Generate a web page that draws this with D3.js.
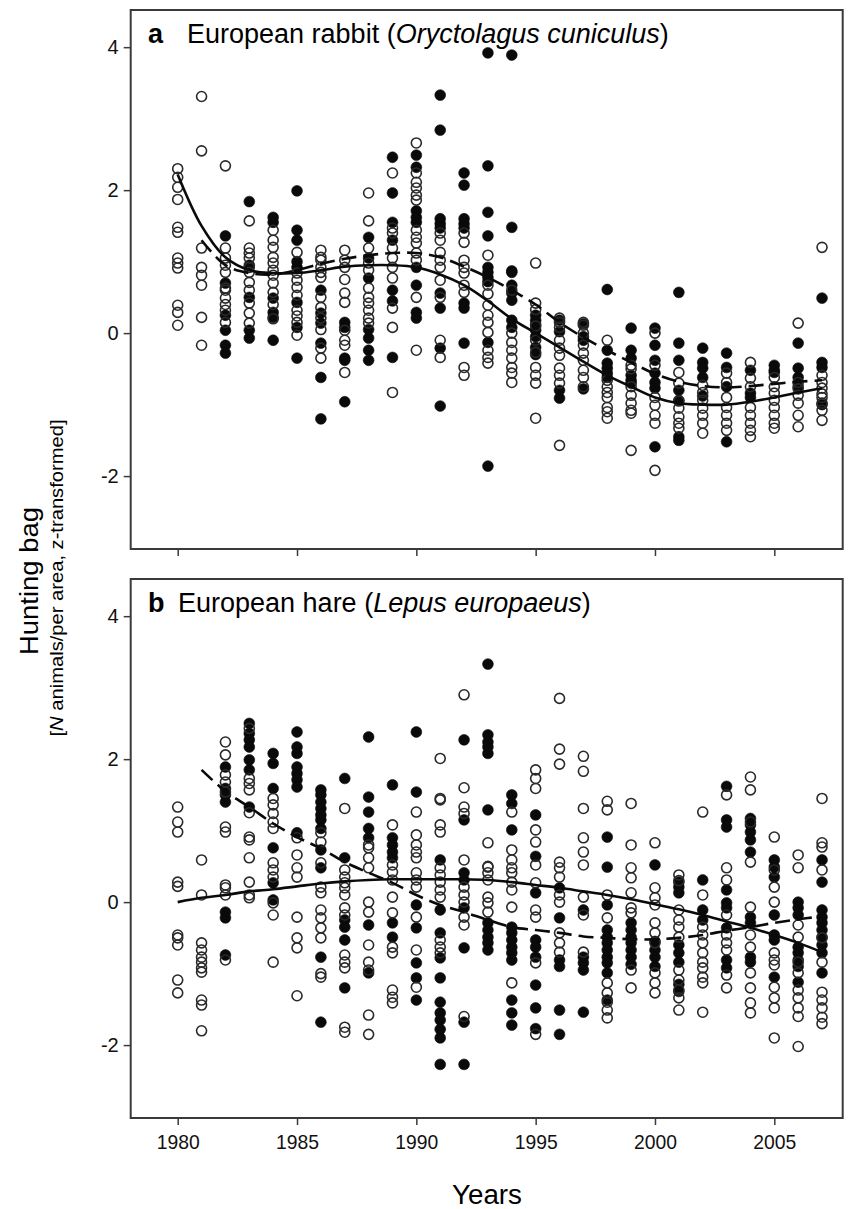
<!DOCTYPE html>
<html lang="en">
<head>
<meta charset="utf-8" />
<title>Hunting bag</title>
<script src="https://cdn.jsdelivr.net/npm/d3@7"></script>
<style>
  body { margin: 0; background: #fff; }
  svg { font-family: "Liberation Sans", Arial, sans-serif; }
  .frame { fill: none; stroke: #3a3a3a; stroke-width: 2; }
  .axis path { display: none; }
  .axis line { stroke: #3a3a3a; stroke-width: 1.5; }
  .axis text { font-size: 21px; fill: #111; }
  .open { fill: none; stroke: #2a2a2a; stroke-width: 1.6; }
  .filled { fill: #0a0a0a; stroke: #0a0a0a; stroke-width: 0.6; }
  .fit { fill: none; stroke: #0a0a0a; stroke-width: 2.6; }
</style>
</head>
<body>
<div id="chart"></div>
<script>
// years on the x axis
var years = d3.range(1980, 2008);
var xTicks = [1980, 1985, 1990, 1995, 2000, 2005];
var yTicks = [-2, 0, 2, 4];

// panel a, European rabbit: values per year (open / filled circles)
var rabbitOpen = [
  [2.3, 2.18, 2.04, 1.87, 1.48, 1.41, 1.05, 0.98, 0.91, 0.39, 0.29, 0.11],
  [3.31, 2.55, 1.19, 0.92, 0.81, 0.67, 0.22, -0.17],
  [2.34, 1.19, 1.05, 0.95, 0.85, 0.63, 0.49, 0.4, 0.32, 0.15, 0.6],
  [1.57, 1.19, 1.12, 1.05, 0.92, 0.85, 0.71, 0.42, 0.28, 0.14, 0.6],
  [1.44, 1.3, 1.2, 1.06, 0.98, 0.88, 0.81, 0.7, 0.57, 0.2, 0.4],
  [1.13, 0.84, 0.74, 0.64, 0.53, 0.32, 0.15, -0.03, 0.24],
  [1.16, 1.06, 0.92, 0.85, 1.02, 0.78, 0.5, 0.36, 0.21, -0.21, -0.35, 0.05],
  [1.16, 1.02, 0.92, 0.56, 0.43, 0.04, -0.1, -0.17, -0.55, 0.75],
  [1.96, 1.57, 1.19, 0.88, 0.63, 0.5, 0.42, 0.32, 0.21, 0.14, 0.98],
  [2.24, 1.47, 1.4, 1.19, 1.05, 0.92, 0.77, 0.35, 0.08, -0.83],
  [2.66, 2.24, 2.11, 2.03, 1.93, 1.86, 1.44, 1.34, 1.26, 1.12, 1.02, 0.5, -0.24],
  [1.4, 1.3, 1.13, 1.02, 0.92, 0.74, 0.5, -0.1, -0.34],
  [1.4, 1.27, 1.02, 0.92, 0.84, 0.67, 0.57, -0.48, -0.59],
  [1.09, 0.67, 0.39, 0.25, 0.01, -0.24, -0.34, -0.42, 0.55, 0.15],
  [0.6, 0.0, -0.13, -0.24, -0.35, -0.48, -0.56, -0.69],
  [0.98, 0.42, 0.33, -0.1, -0.27, -0.48, -0.59, -0.7, -1.19, 0.1],
  [0.21, 0.15, 0.08, -0.1, -0.21, -0.31, -0.49, -0.59, -0.7, -1.57],
  [0.15, 0.11, -0.17, -0.28, -0.38, -0.52, -0.62, -0.75, 0.0],
  [-0.1, -0.66, -0.83, -1.04, -1.1, -1.19, -0.9, -0.75],
  [-0.45, -0.75, -0.87, -0.98, -1.08, -1.12, -1.64, -0.5],
  [0.0, -0.45, -0.9, -1.01, -1.15, -1.26, -1.92],
  [-0.55, -0.7, -1.05, -1.17, -1.26, -1.33, -0.95],
  [-0.73, -0.83, -0.94, -1.05, -1.15, -1.26, -1.4],
  [-0.56, -0.69, -0.9, -1.04, -1.15, -1.26, -1.36],
  [-0.41, -0.63, -1.04, -1.15, -1.26, -1.36, -1.45, -0.75],
  [-0.62, -0.84, -0.94, -1.04, -1.15, -1.26, -1.33, -0.75],
  [0.14, -0.69, -0.87, -0.98, -1.15, -1.31, -0.78],
  [1.2, -0.59, -0.69, -0.77, -0.9, -0.98, -1.08, -1.22, -0.85]
];
var rabbitFilled = [
  [],
  [],
  [1.36, 0.7, 0.04, -0.17, -0.28, 0.25],
  [1.84, 0.5, 0.04, -0.07, 0.95],
  [1.62, 1.55, 0.49, 0.29, 0.22, -0.1],
  [1.99, 1.44, 1.3, 0.92, 0.43, 0.08, -0.35, 1.0],
  [0.6, 0.14, -0.14, -0.62, -1.2, 0.28],
  [0.15, 0.08, -0.35, -0.38, -0.96],
  [1.34, 1.05, 0.77, -0.07, -0.24, -0.38, 0.05],
  [2.46, 1.96, 1.55, 1.3, 0.6, -0.34, 0.45],
  [2.49, 2.32, 1.71, 1.62, 1.55, 0.92, 0.67, 0.29, 0.21],
  [3.33, 2.84, 1.6, 1.53, 1.47, 0.56, 0.35, -0.21, -1.02],
  [2.24, 2.07, 1.6, 1.53, 1.47, 0.42, 0.35, -0.14],
  [3.92, 2.34, 1.69, 1.36, 0.92, 0.85, 0.78, 0.72, -0.13, -1.86],
  [3.89, 1.48, 0.87, 0.85, 0.67, 0.56, 0.46, 0.18, 0.08],
  [0.25, 0.18, 0.12, 0.04, -0.05, -0.2, -0.3],
  [0.18, 0.02, -0.8, -0.91],
  [0.13, -0.05, -0.1, -0.78],
  [0.61, -0.24, -0.42, -0.49, -0.56, -0.62],
  [0.07, -0.24, -0.35, -0.59, -0.66, -0.7],
  [0.07, -0.17, -0.38, -0.56, -0.69, -0.77, -1.59],
  [0.57, -0.14, -0.38, -0.8, -0.94, -1.45, -1.5],
  [-0.21, -0.41, -0.49, -0.62, -0.88],
  [-0.28, -0.48, -0.75, -1.52],
  [-0.52, -0.84, -0.9],
  [-0.45, -0.52, -0.55],
  [-0.14, -0.49, -0.62, -0.75],
  [0.49, -0.41, -0.48, -1.0]
];
// fitted trends read at each year (solid from 1980, dashed from 1981)
var rabbitSolid = [2.22, 1.5, 1.06, 0.88, 0.84, 0.84, 0.88, 0.93, 0.95, 0.95, 0.92, 0.82, 0.67, 0.45,
  0.2, 0.0, -0.2, -0.4, -0.59, -0.75, -0.9, -0.98, -1.0, -1.0, -0.96, -0.9, -0.83, -0.77];
var rabbitDashed = [1.3, 0.95, 0.84, 0.82, 0.88, 0.97, 1.04, 1.09, 1.12, 1.12, 1.06, 0.93, 0.78, 0.6,
  0.4, 0.15, -0.06, -0.24, -0.41, -0.57, -0.68, -0.74, -0.76, -0.74, -0.71, -0.68, -0.66];

// panel b, European hare
var hareOpen = [
  [1.33, 1.12, 0.98, 0.28, 0.22, -0.46, -0.5, -0.6, -1.09, -1.27],
  [0.59, 0.1, -0.57, -0.67, -0.77, -0.84, -0.92, -0.98, -1.37, -1.44, -1.8],
  [2.24, 2.06, 1.78, 1.68, 1.54, 1.05, 0.98, 0.24, 0.2, 0.1, -0.81],
  [2.43, 1.73, 1.66, 1.57, 1.25, 0.91, 0.87, 0.62, 0.28, 0.1, 0.06],
  [1.45, 1.36, 1.24, 1.12, 1.03, 0.55, 0.45, 0.35, -0.01, -0.18, -0.84],
  [0.9, 0.66, 0.48, 0.35, -0.21, -0.5, -0.64, -1.31],
  [0.97, 0.84, 0.55, 0.21, 0.13, -0.11, -0.22, -0.36, -0.5, -1.0, -1.05],
  [1.31, 0.45, 0.35, 0.27, 0.2, 0.1, -0.08, -0.18, -0.74, -0.84, -0.92, -1.75, -1.82],
  [0.8, 0.76, 0.62, 0.48, 0.0, -0.14, -0.6, -0.84, -0.95, -1.58, -1.85],
  [1.08, 0.52, 0.42, 0.31, 0.07, -0.15, -0.63, -0.71, -1.23, -1.33, -1.41],
  [1.26, 0.94, 0.8, 0.7, 0.62, 0.41, 0.31, 0.21, -0.21, -0.67, -1.19],
  [2.01, 1.45, 1.43, 1.08, 0.98, 0.48, 0.38, 0.28, 0.17, 0.07, -0.53, -0.63, -0.71],
  [2.9, 1.6, 1.33, 1.24, 0.59, 0.21, 0.1, 0.0, -0.21, -0.32, -1.6],
  [0.83, 0.5, 0.49, 0.41, 0.31, 0.07, -0.01, -0.14],
  [1.26, 0.73, 0.59, 0.48, 0.41, 0.28, 0.17, -0.07, -1.13],
  [1.85, 1.73, 1.59, 1.01, 0.84, 0.52, 0.27, -0.11, -0.21, -0.85, -1.85],
  [2.85, 2.14, 1.93, 0.56, 0.48, 0.35, 0.1, 0.0, -0.43, -0.57, -0.7],
  [2.04, 1.83, 1.31, 0.9, 0.7, 0.52, 0.07, -0.18, -0.7],
  [1.41, 1.29, 0.1, -0.22, -1.13, -1.27, -1.4, -1.51, -1.62],
  [1.38, 0.8, 0.48, 0.34, 0.13, -0.08, -0.15, -0.95, -1.2],
  [0.83, 0.2, 0.06, -0.04, -0.29, -0.43, -0.57, -0.99, -1.13, -1.27],
  [0.38, 0.3, -0.11, -0.25, -0.35, -0.49, -0.95, -1.09, -1.23, -1.34, -1.51],
  [1.26, 0.1, -0.35, -0.46, -0.57, -0.71, -0.84, -0.92, -1.05, -1.13, -1.54],
  [1.5, 0.48, 0.31, -0.18, -0.46, -0.57, -0.67, -1.02, -1.2],
  [1.75, 1.57, 1.12, 0.56, -0.07, -0.46, -0.63, -0.99, -1.2, -1.41, -1.55],
  [0.91, 0.45, 0.21, 0.0, -0.71, -0.81, -0.88, -1.19, -1.34, -1.48, -1.9],
  [0.66, 0.48, -0.32, -0.49, -0.84, -0.99, -1.23, -1.34, -1.48, -1.6, -2.02],
  [1.45, 0.83, 0.77, 0.45, -0.5, -0.84, -1.26, -1.37, -1.48, -1.61, -1.7]
];
var hareFilled = [
  [],
  [],
  [1.89, 1.59, 1.5, 1.4, -0.14, -0.22, -0.74],
  [2.5, 2.36, 2.27, 2.17, 1.99, 1.85, 1.33],
  [2.08, 1.94, 1.59, 0.76, 0.27, 0.03],
  [2.38, 2.17, 2.08, 1.89, 1.8, 1.71, 1.61, 0.97],
  [1.57, 1.5, 1.4, 1.31, 1.22, 1.15, 1.03, 0.73, 0.48, -0.77, -1.68],
  [1.73, 0.62, -0.25, -0.35, -0.53, -1.2],
  [2.31, 1.47, 1.26, 1.03, 0.9, -0.32, -0.99],
  [1.64, 0.9, 0.8, 0.7, 0.62, -0.29, -0.49],
  [2.38, 1.54, -0.04, -0.36, -0.85, -1.06, -1.37],
  [0.59, -0.11, -0.43, -0.78, -1.06, -1.4, -1.55, -1.65, -1.78, -1.9, -2.27],
  [2.27, 1.15, 0.41, 0.31, -0.08, -0.64, -1.68, -2.27],
  [3.33, 2.34, 2.24, 2.17, 2.08, 1.29, -0.29, -0.39, -0.49, -0.57, -0.67],
  [1.5, 1.38, 1.01, -0.35, -0.43, -0.53, -0.63, -0.71, -0.81, -1.37, -1.55, -1.72],
  [1.22, 0.64, 0.13, -0.53, -0.63, -0.77, -1.16, -1.48, -1.77],
  [0.2, -0.22, -0.81, -0.9, -1.51, -1.85],
  [-0.11, -0.77, -0.85, -0.95, -1.54],
  [0.91, 0.49, -0.04, -0.39, -0.49, -0.57, -0.67, -0.77, -0.85, -0.99, -1.37],
  [-0.29, -0.39, -0.49, -0.57, -0.67, -0.77, -0.87],
  [0.52, -0.55, -0.67, -0.77, -0.9],
  [0.28, 0.21, 0.13, -0.6, -0.71, -0.84, -1.15, -1.25],
  [0.31, -0.11, -0.25],
  [1.62, 1.15, 1.05, 0.17, -0.01, -0.08, -0.36, -0.81, -0.92],
  [1.17, 1.08, 0.98, 0.87, 0.7, -0.21, -0.29, -0.77, -0.84],
  [0.59, 0.49, 0.35, -0.18, -0.46, -0.53, -1.05],
  [0.0, -0.08, -0.18, -0.63, -0.71, -0.81, -0.9, -1.12],
  [0.59, 0.28, -0.11, -0.21, -0.29, -0.39, -0.49, -0.6, -0.71, -0.99]
];
var hareSolid = [0.0, 0.06, 0.1, 0.15, 0.18, 0.22, 0.26, 0.29, 0.31, 0.32, 0.32, 0.32, 0.32, 0.31,
  0.28, 0.24, 0.2, 0.15, 0.1, 0.04, -0.03, -0.1, -0.18, -0.27, -0.36, -0.46, -0.57, -0.7];
var hareDashed = [1.85, 1.55, 1.33, 1.1, 0.91, 0.75, 0.56, 0.41, 0.27, 0.1, -0.04, -0.14, -0.25,
  -0.35, -0.39, -0.43, -0.48, -0.5, -0.52, -0.52, -0.5, -0.46, -0.4, -0.35, -0.29, -0.24, -0.2];

var width = 848, height = 1209;
var left = 130.7, right = 842.7;

var svg = d3.select("#chart").append("svg")
    .attr("width", width)
    .attr("height", height);

var x = d3.scaleLinear().domain([1980, 2005]).range([177.7, 774.3]);

function flatten(list) {
  var out = [];
  list.forEach(function(vals, i) {
    vals.forEach(function(v) { out.push({year: years[i], v: v}); });
  });
  return out;
}

function panel(top, bottom, open, filled, solid, dashed, letter, name, latin, nameX, showLabels) {
  var y = d3.scaleLinear().domain([-3.02, 4.52]).range([bottom, top]);
  var g = svg.append("g");

  g.append("g").attr("class", "axis")
      .attr("transform", "translate(" + left + ",0)")
      .call(d3.axisLeft(y).tickValues(yTicks).tickSize(7).tickPadding(5)
        .tickFormat(function(d) { return String(d); }))
      .selectAll("text").style("font-size", "20px");

  g.append("g").attr("class", "axis")
      .attr("transform", "translate(0," + bottom + ")")
      .call(d3.axisBottom(x).tickValues(xTicks).tickSize(7).tickPadding(9)
        .tickFormat(showLabels ? function(d) { return String(d); } : ""))
      .selectAll("text")
        .attr("textLength", 43).attr("lengthAdjust", "spacingAndGlyphs");

  g.append("rect").attr("class", "frame")
      .attr("x", left).attr("y", top)
      .attr("width", right - left).attr("height", bottom - top);

  g.selectAll(".filled").data(flatten(filled)).enter().append("circle")
      .attr("class", "filled")
      .attr("cx", function(d) { return x(d.year); })
      .attr("cy", function(d) { return y(d.v); })
      .attr("r", 5.4);

  g.selectAll(".open").data(flatten(open)).enter().append("circle")
      .attr("class", "open")
      .attr("cx", function(d) { return x(d.year); })
      .attr("cy", function(d) { return y(d.v); })
      .attr("r", 5);

  var line = d3.line()
      .x(function(d) { return x(d[0]); })
      .y(function(d) { return y(d[1]); })
      .curve(d3.curveCatmullRom);

  g.append("path").attr("class", "fit")
      .attr("d", line(solid.map(function(v, i) { return [years[i], v]; })));
  g.append("path").attr("class", "fit")
      .attr("stroke-dasharray", "15,7")
      .attr("d", line(dashed.map(function(v, i) { return [years[i + 1], v]; })));

  g.append("text").attr("x", 148).attr("y", top + 33)
      .style("font-size", "27px").style("font-weight", "bold")
      .text(letter);
  var t = g.append("text").attr("x", nameX).attr("y", top + 33)
      .style("font-size", "27px");
  t.append("tspan").text(name + " (");
  t.append("tspan").style("font-style", "italic").text(latin);
  t.append("tspan").text(")");
}

panel(10, 549, rabbitOpen, rabbitFilled, rabbitSolid, rabbitDashed,
  "a", "European rabbit", "Oryctolagus cuniculus", 187, false);
panel(579, 1118, hareOpen, hareFilled, hareSolid, hareDashed,
  "b", "European hare", "Lepus europaeus", 178, true);

svg.append("text")
    .attr("transform", "translate(38,581) rotate(-90)")
    .attr("text-anchor", "middle")
    .attr("textLength", 148).attr("lengthAdjust", "spacingAndGlyphs")
    .style("font-size", "25px")
    .text("Hunting bag");

var sub = svg.append("text")
    .attr("transform", "translate(63,578) rotate(-90)")
    .attr("text-anchor", "middle")
    .attr("textLength", 317).attr("lengthAdjust", "spacingAndGlyphs")
    .style("font-size", "19px");
sub.append("tspan").text("[");
sub.append("tspan").style("font-style", "italic").text("N");
sub.append("tspan").text(" animals/per area, z-transformed]");

svg.append("text")
    .attr("x", 487).attr("y", 1204)
    .attr("text-anchor", "middle")
    .attr("textLength", 70).attr("lengthAdjust", "spacingAndGlyphs")
    .style("font-size", "27px")
    .text("Years");
</script>
</body>
</html>
